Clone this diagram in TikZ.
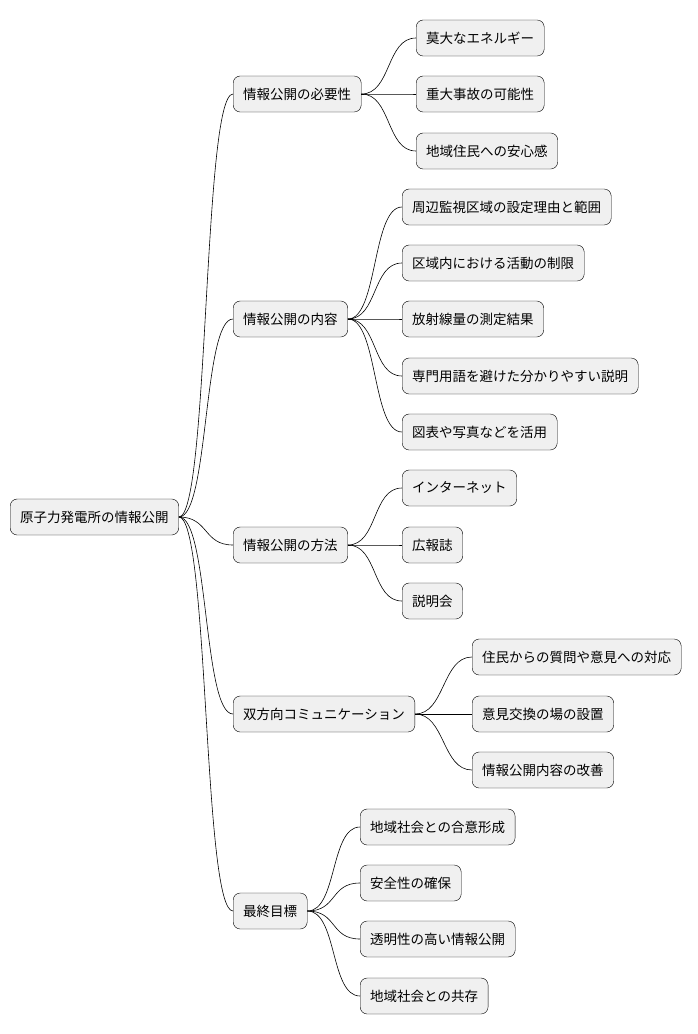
\documentclass[tikz,border=0pt]{standalone}
\usepackage{fontspec}
\setmainfont{Noto Sans CJK JP}
\tikzset{
  topic/.style={draw=black, fill=black!6, rounded corners=7pt, minimum height=36pt, inner xsep=10pt, anchor=west, font=\fontsize{13.5}{16}\selectfont},
  link/.style={draw=black, line width=0.6pt}
}
\newcommand{\branch}[2]{\draw[link] (#1.east) .. controls +(30pt,0) and +(-30pt,0) .. (#2.west);}
\begin{document}
\begin{tikzpicture}[x=1pt, y=-1pt]
    \useasboundingbox (0,0) rectangle (698,1034);
    % root
    \node[topic] (root) at (10,517) {原子力発電所の情報公開};

    % first level
    \node[topic] (need) at (233,94) {情報公開の必要性};
    \node[topic] (cont) at (233,319) {情報公開の内容};
    \node[topic] (meth) at (233,545) {情報公開の方法};
    \node[topic] (comm) at (233,714) {双方向コミュニケーション};
    \node[topic] (goal) at (233,911) {最終目標};

    % need
    \node[topic] (n1) at (416,38) {莫大なエネルギー};
    \node[topic] (n2) at (416,94) {重大事故の可能性};
    \node[topic] (n3) at (416,151) {地域住民への安心感};

    % content
    \node[topic] (c1) at (402,207) {周辺監視区域の設定理由と範囲};
    \node[topic] (c2) at (402,263) {区域内における活動の制限};
    \node[topic] (c3) at (402,319) {放射線量の測定結果};
    \node[topic] (c4) at (402,376) {専門用語を避けた分かりやすい説明};
    \node[topic] (c5) at (402,432) {図表や写真などを活用};

    % method
    \node[topic] (m1) at (402,488) {インターネット};
    \node[topic] (m2) at (402,545) {広報誌};
    \node[topic] (m3) at (402,601) {説明会};

    % communication
    \node[topic] (k1) at (472,657) {住民からの質問や意見への対応};
    \node[topic] (k2) at (472,714) {意見交換の場の設置};
    \node[topic] (k3) at (472,770) {情報公開内容の改善};

    % goal
    \node[topic] (g1) at (360,827) {地域社会との合意形成};
    \node[topic] (g2) at (360,883) {安全性の確保};
    \node[topic] (g3) at (360,939) {透明性の高い情報公開};
    \node[topic] (g4) at (360,996) {地域社会との共存};

    \foreach \c in {need,cont,meth,comm,goal} {\branch{root}{\c}}
    \foreach \c in {n1,n2,n3} {\branch{need}{\c}}
    \foreach \c in {c1,c2,c3,c4,c5} {\branch{cont}{\c}}
    \foreach \c in {m1,m2,m3} {\branch{meth}{\c}}
    \foreach \c in {k1,k2,k3} {\branch{comm}{\c}}
    \foreach \c in {g1,g2,g3,g4} {\branch{goal}{\c}}
\end{tikzpicture}
\end{document}
